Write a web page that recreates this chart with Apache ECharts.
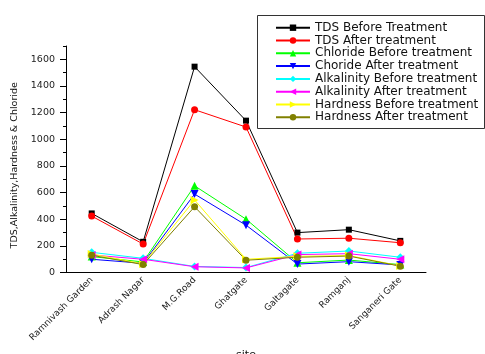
<!DOCTYPE html>
<html>
<head>
<meta charset="utf-8">
<script src="https://cdn.jsdelivr.net/npm/echarts@6/dist/echarts.min.js"></script>
<style>html,body{margin:0;padding:0;background:#fff;}#c{width:485px;height:354px;}</style>
</head>
<body>
<div id="c"></div>
<script>
const categories = ['Ramnivash Garden','Adrash Nagar','M.G.Road','Ghatgate','Galtagate','Ramganj','Sanganeri Gate'];
const tdsBefore = [444, 231, 1545, 1140, 300, 322, 238];
const tdsAfter = [424, 214, 1222, 1092, 252, 258, 224];
const chlorideBefore = [120, 80, 651, 401, 74, 94, 60];
const chlorideAfter = [100, 70, 589, 356, 64, 82, 57];
const alkalinityBefore = [152, 107, 46, 38, 145, 162, 115];
const alkalinityAfter = [132, 100, 44, 35, 135, 142, 100];
const hardnessBefore = [140, 65, 545, 100, 122, 128, 50];
const hardnessAfter = [130, 60, 494, 93, 115, 124, 48];
const yMajorTicks = [0,200,400,600,800,1000,1200,1400,1600];
const yMinorTicks = [100,300,500,700,900,1100,1300,1500,1700];

const FONT = 'DejaVu Sans';
const chart = echarts.init(document.getElementById('c'), null, {renderer:'canvas'});

function mk(name, data, color, symbol, rotate, size) {
  return {
    name, type:'line', data, xAxisIndex:0, yAxisIndex:0,
    symbol, symbolRotate: rotate, symbolSize: size,
    showAllSymbol: true,
    itemStyle:{color},
    lineStyle:{color, width:1},
    emphasis:{disabled:true},
    animation:false
  };
}

const option = {
  animation:false,
  backgroundColor:'#fff',
  grid:{left:66, right:59, top:46, bottom:81.4, containLabel:false, outerBoundsMode:'none'},
  legend:{
    orient:'vertical', left:275, top:21.3, padding:0, itemGap:0,
    itemWidth:34, itemHeight:8,
    textStyle:{fontFamily:FONT, fontSize:12, color:'#111', lineHeight:12.8},
    data:['TDS Before Treatment','TDS After treatment','Chloride Before treatment','Choride After treatment','Alkalinity Before treatment','Alkalinity After treatment','Hardness Before treatment','Hardness After treatment']
  },
  graphic:[{type:'rect', shape:{x:257.5, y:15.5, width:227, height:113}, style:{fill:'none', stroke:'#333', lineWidth:1}, z:-1}],
  xAxis:[{
    type:'category', data:categories, boundaryGap:true,
    name:'site', nameLocation:'middle', nameGap:75,
    nameTextStyle:{fontFamily:FONT, fontSize:11, color:'#111'},
    axisLine:{lineStyle:{color:'#000', width:1}},
    axisTick:{alignWithLabel:true, length:6, lineStyle:{color:'#000'}},
    axisLabel:{rotate:45, fontFamily:FONT, fontSize:9, color:'#222', margin:6, interval:0},
    splitLine:{show:false}
  },{
    type:'category', data:categories, boundaryGap:true, position:'bottom',
    axisLine:{show:false},
    axisTick:{alignWithLabel:false, length:3, lineStyle:{color:'#000'}},
    axisLabel:{show:false}, splitLine:{show:false}
  }],
  yAxis:[{
    type:'value', min:0, max:1700,
    name:'TDS,Alkalinity,Hardness & Chloride', nameLocation:'middle', nameGap:42,
    nameTextStyle:{fontFamily:FONT, fontSize:9.5, color:'#111', padding:[0,12,0,0]},
    axisLine:{show:true, lineStyle:{color:'#000', width:1}},
    axisTick:{show:true, length:6, customValues:yMajorTicks, lineStyle:{color:'#000'}},
    axisLabel:{fontFamily:FONT, fontSize:9.5, color:'#222', margin:11, customValues:yMajorTicks, formatter:(v)=>String(v)},
    splitLine:{show:false}
  },{
    type:'value', min:0, max:1700, position:'left',
    axisLine:{show:false},
    axisTick:{show:true, length:3, customValues:yMinorTicks, lineStyle:{color:'#000'}},
    axisLabel:{show:false}, splitLine:{show:false}
  }],
  series:[
    mk('TDS Before Treatment', tdsBefore, '#000000', 'rect', 0, 6),
    mk('TDS After treatment', tdsAfter, '#ff0000', 'circle', 0, 7),
    mk('Chloride Before treatment', chlorideBefore, '#00ff00', 'triangle', 0, 8),
    mk('Choride After treatment', chlorideAfter, '#0000ff', 'triangle', 180, 8),
    mk('Alkalinity Before treatment', alkalinityBefore, '#00ffff', 'diamond', 0, 8),
    mk('Alkalinity After treatment', alkalinityAfter, '#ff00ff', 'triangle', 90, 8),
    mk('Hardness Before treatment', hardnessBefore, '#ffff00', 'triangle', -90, 8),
    mk('Hardness After treatment', hardnessAfter, '#808000', 'circle', 0, 7)
  ]
};
chart.setOption(option);
</script>
</body>
</html>
